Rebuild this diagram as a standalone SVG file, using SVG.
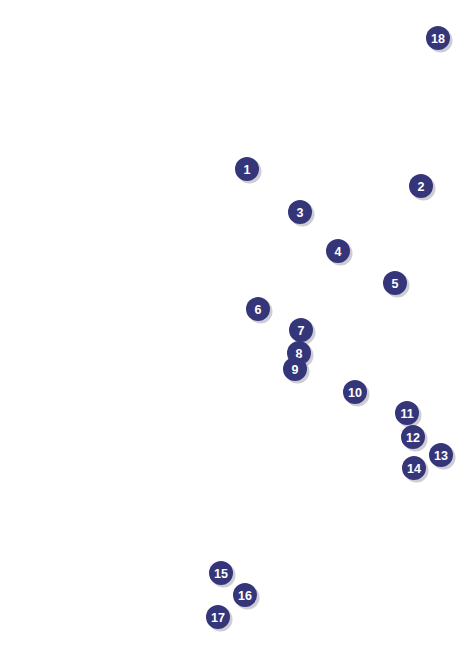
<svg xmlns="http://www.w3.org/2000/svg" width="476" height="647" viewBox="0 0 476 647">
<style>
.s{fill:#b8b8c0;opacity:0.7}
.c{fill:#35357a}
.t{fill:#fff;font-family:"Liberation Sans",Arial,sans-serif;font-weight:bold;font-size:12.5px;text-anchor:middle}
</style>
<defs>
<g id="m"><circle class="s" cx="2.5" cy="2.5" r="12"/><circle class="c" r="12"/></g>
</defs>
<rect width="476" height="647" fill="#fff"/>
<g id="connectors"/>
<g id="n1"><use href="#m" x="247" y="169"/><text class="t" x="247" y="173.5">1</text></g>
<g id="n2"><use href="#m" x="421" y="186"/><text class="t" x="421" y="190.5">2</text></g>
<g id="n3"><use href="#m" x="300" y="212"/><text class="t" x="300" y="216.5">3</text></g>
<g id="n4"><use href="#m" x="338" y="251"/><text class="t" x="338" y="255.5">4</text></g>
<g id="n5"><use href="#m" x="395" y="283"/><text class="t" x="395" y="287.5">5</text></g>
<g id="n6"><use href="#m" x="258" y="309"/><text class="t" x="258" y="313.5">6</text></g>
<g id="n7"><use href="#m" x="301" y="330"/><text class="t" x="301" y="334.5">7</text></g>
<g id="n8"><use href="#m" x="299" y="353"/><text class="t" x="299" y="357.5">8</text></g>
<g id="n9"><use href="#m" x="295" y="369"/><text class="t" x="295" y="373.5">9</text></g>
<g id="n10"><use href="#m" x="355" y="392"/><text class="t" x="355" y="396.5">10</text></g>
<g id="n11"><use href="#m" x="407" y="413"/><text class="t" x="407" y="417.5">11</text></g>
<g id="n12"><use href="#m" x="413" y="437"/><text class="t" x="413" y="441.5">12</text></g>
<g id="n13"><use href="#m" x="441" y="455"/><text class="t" x="441" y="459.5">13</text></g>
<g id="n14"><use href="#m" x="414" y="468"/><text class="t" x="414" y="472.5">14</text></g>
<g id="n15"><use href="#m" x="221" y="573"/><text class="t" x="221" y="577.5">15</text></g>
<g id="n16"><use href="#m" x="245" y="595"/><text class="t" x="245" y="599.5">16</text></g>
<g id="n17"><use href="#m" x="218" y="617"/><text class="t" x="218" y="621.5">17</text></g>
<g id="n18"><use href="#m" x="438" y="38"/><text class="t" x="438" y="42.5">18</text></g>
</svg>
